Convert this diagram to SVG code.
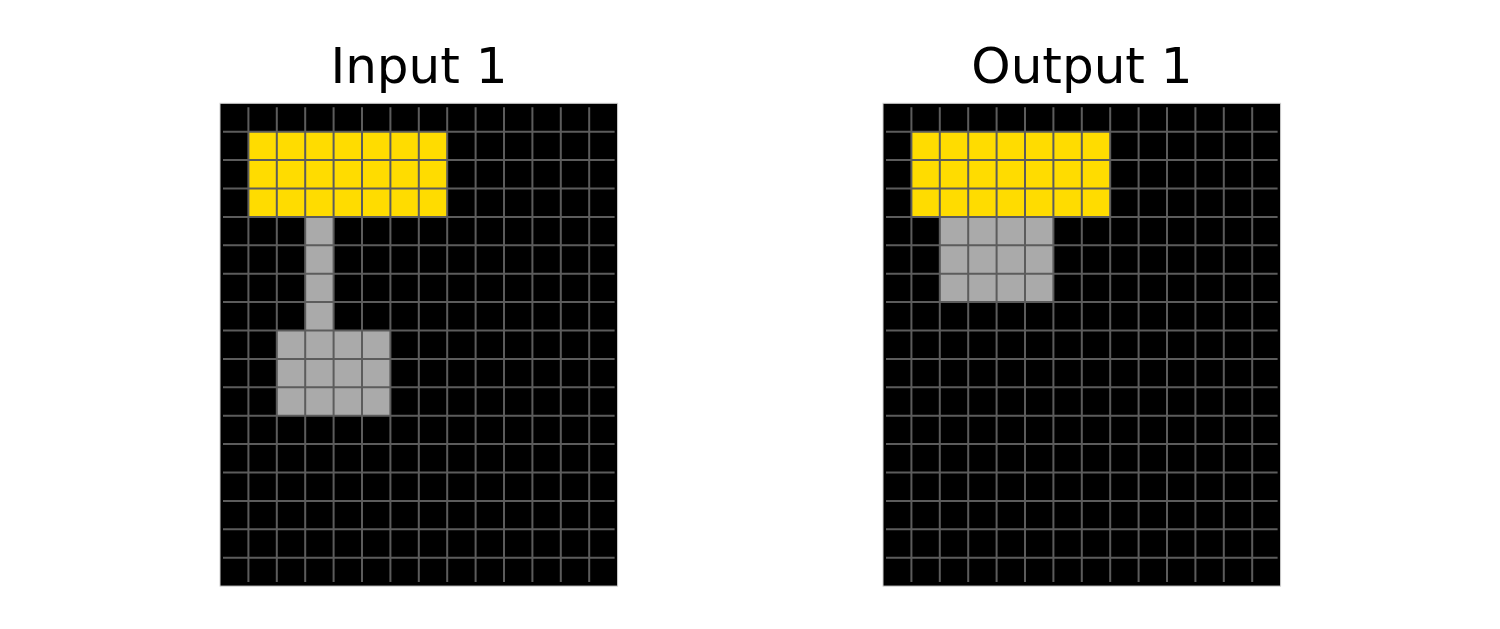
<svg xmlns="http://www.w3.org/2000/svg" xmlns:xlink="http://www.w3.org/1999/xlink" width="1500" height="629" viewBox="0 0 1500 629">
<style>
.bg{fill:#000000;stroke:#d0d0d0;stroke-width:1}
.y{fill:#FFDC00}
.g{fill:#AAAAAA}
.grid{stroke:#5c5c5c;stroke-width:2;fill:none}
.title{font-family:"DejaVu Sans",sans-serif;font-size:50px;fill:#000;text-anchor:middle}
</style>
<defs>
<path id="gridlines" class="grid" d="M28.4 4V478.8M56.8 4V478.8M85.2 4V478.8M113.6 4V478.8M142 4V478.8M170.4 4V478.8M198.8 4V478.8M227.2 4V478.8M255.6 4V478.8M284 4V478.8M312.4 4V478.8M340.8 4V478.8M369.2 4V478.8M3 28.4H394.6M3 56.8H394.6M3 85.2H394.6M3 113.6H394.6M3 142H394.6M3 170.4H394.6M3 198.8H394.6M3 227.2H394.6M3 255.6H394.6M3 284H394.6M3 312.4H394.6M3 340.8H394.6M3 369.2H394.6M3 397.6H394.6M3 426H394.6M3 454.4H394.6"/>
</defs>
<rect width="1500" height="629" fill="#ffffff"/>
<g id="input1" transform="translate(220,103.3)">
<rect class="bg" x="0" y="0" width="397.6" height="482.8"/>
<rect class="y" x="28.4" y="28.4" width="198.8" height="85.2"/>
<rect class="g" x="85.2" y="113.6" width="28.4" height="113.6"/>
<rect class="g" x="56.8" y="227.2" width="113.6" height="85.2"/>
<use xlink:href="#gridlines"/>
</g>
<g id="output1" transform="translate(883,103.3)">
<rect class="bg" x="0" y="0" width="397.6" height="482.8"/>
<rect class="y" x="28.4" y="28.4" width="198.8" height="85.2"/>
<rect class="g" x="56.8" y="113.6" width="113.6" height="85.2"/>
<use xlink:href="#gridlines"/>
</g>
<text class="title" x="419" y="83">Input 1</text>
<text class="title" x="1082" y="83">Output 1</text>
</svg>
